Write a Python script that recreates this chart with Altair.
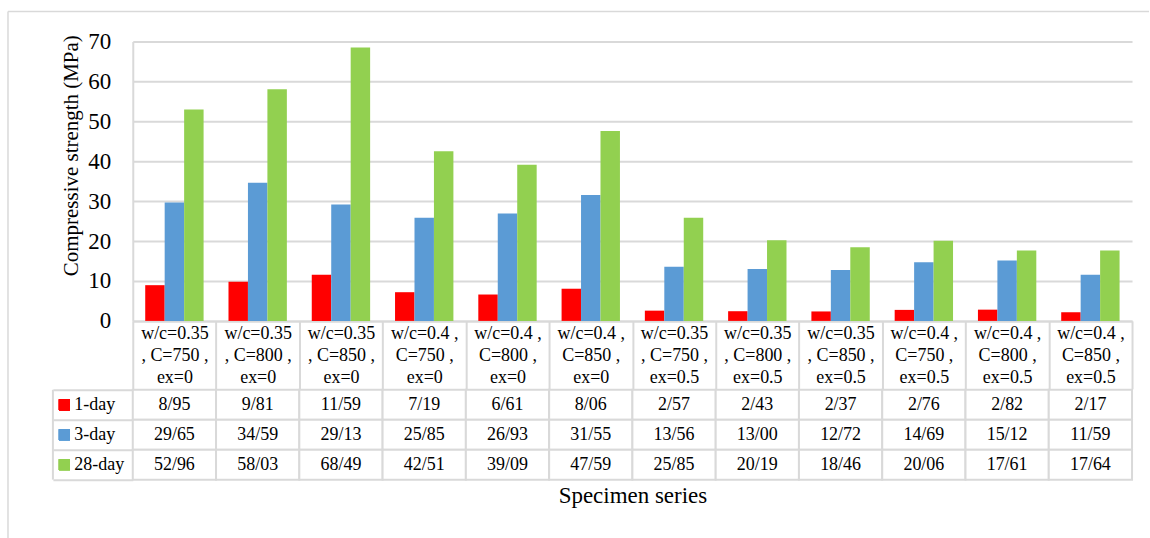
import altair as alt
import pandas as pd

categories = [
    "w/c=0.35|, C=750 ,|ex=0",
    "w/c=0.35|, C=800 ,|ex=0",
    "w/c=0.35|, C=850 ,|ex=0",
    "w/c=0.4 ,|C=750 ,|ex=0",
    "w/c=0.4 ,|C=800 ,|ex=0",
    "w/c=0.4 ,|C=850 ,|ex=0",
    "w/c=0.35|, C=750 ,|ex=0.5",
    "w/c=0.35|, C=800 ,|ex=0.5",
    "w/c=0.35|, C=850 ,|ex=0.5",
    "w/c=0.4 ,|C=750 ,|ex=0.5",
    "w/c=0.4 ,|C=800 ,|ex=0.5",
    "w/c=0.4 ,|C=850 ,|ex=0.5",
]
series_names = ["1-day", "3-day", "28-day"]
day1 = [8.95, 9.81, 11.59, 7.19, 6.61, 8.06, 2.57, 2.43, 2.37, 2.76, 2.82, 2.17]
day3 = [29.65, 34.59, 29.13, 25.85, 26.93, 31.55, 13.56, 13.00, 12.72, 14.69, 15.12, 11.59]
day28 = [52.96, 58.03, 68.49, 42.51, 39.09, 47.59, 25.85, 20.19, 18.46, 20.06, 17.61, 17.64]
colors = ["#FF0000", "#5B9BD5", "#92D050"]
y_ticks = [0, 10, 20, 30, 40, 50, 60, 70]

rows = []
for s, vals in zip(series_names, [day1, day3, day28]):
    for c, v in zip(categories, vals):
        rows.append({"category": c, "series": s, "value": v})
df = pd.DataFrame(rows)

GRID = "#D9D9D9"
FONT = "Liberation Serif"

color_enc = alt.Color("series:N", scale=alt.Scale(domain=series_names, range=colors), legend=None)

bars = alt.Chart(df).mark_bar().encode(
    x=alt.X(
        "category:N",
        sort=categories,
        scale=alt.Scale(domain=categories, paddingInner=0, paddingOuter=0),
        axis=alt.Axis(
            title=None, labelExpr="split(datum.label, '|')", labelAngle=0,
            labelFont=FONT, labelFontSize=18, labelLineHeight=22, labelBaseline="top",
            labelPadding=-64, labelColor="black", labelOverlap=False, labelBound=False,
            ticks=True, tickSize=68, tickBand="extent", tickColor=GRID, tickWidth=2,
            domainColor=GRID, domainWidth=2, grid=False,
        ),
    ),
    xOffset=alt.XOffset(
        "series:N", sort=series_names,
        scale=alt.Scale(domain=series_names, paddingInner=0, paddingOuter=0.64),
    ),
    y=alt.Y(
        "value:Q",
        scale=alt.Scale(domain=[0, 70], nice=False),
        axis=alt.Axis(
            title="Compressive strength (MPa)", values=y_ticks, grid=True,
            gridColor=GRID, gridWidth=2, ticks=False, domainColor=GRID, domainWidth=2,
            labelFont=FONT, labelFontSize=23, labelPadding=22, labelColor="black",
            titleFont=FONT, titleFontSize=21, titleFontWeight="normal", titleColor="black",
            titleX=-61, titleY=114, titleAngle=270, titleBaseline="middle", titleAlign="center",
        ),
    ),
    color=color_enc,
)

frame_df = pd.DataFrame({"k": [0]})
frame_left = alt.Chart(frame_df).mark_rule(color=GRID, strokeWidth=1.5).encode(
    x=alt.value(-125), y=alt.value(-30), y2=alt.value(498)
)
frame_top = alt.Chart(frame_df).mark_rule(color=GRID, strokeWidth=1.5).encode(
    y=alt.value(-30), x=alt.value(-125), x2=alt.value(1018)
)

top = alt.layer(frame_left, frame_top, bars).properties(width=1001, height=280)

table_base = alt.Chart(df).transform_calculate(
    label="replace(format(datum.value, '.2f'), '.', '/')"
).encode(
    x=alt.X(
        "category:N",
        sort=categories,
        scale=alt.Scale(domain=categories, paddingInner=0, paddingOuter=0),
        axis=alt.Axis(
            title="Specimen series", labels=False, ticks=False, domain=False,
            titleFont=FONT, titleFontSize=23, titleFontWeight="normal",
            titleColor="black", titlePadding=5,
        ),
    ),
    y=alt.Y(
        "series:N",
        sort=series_names,
        scale=alt.Scale(domain=series_names, paddingInner=0, paddingOuter=0),
        axis=alt.Axis(
            title=None, labelAlign="left", labelPadding=-21,
            labelFont=FONT, labelFontSize=18,
            labelColor="black", ticks=True, tickSize=80, tickBand="extent",
            tickColor=GRID, tickWidth=2, domain=False, grid=False,
        ),
    ),
)
cells = table_base.mark_rect(fill="white", stroke=GRID, strokeWidth=2)
texts = table_base.mark_text(fontSize=18, color="black", font=FONT).encode(text="label:N")
squares = table_base.mark_point(shape="square", filled=True, size=121, opacity=1).encode(
    x=alt.value(-68.5), color=color_enc
)
left_line = alt.Chart(frame_df).mark_rule(color=GRID, strokeWidth=2).encode(
    x=alt.value(-80), y=alt.value(0), y2=alt.value(90)
)
table = alt.layer(cells, texts, squares, left_line).properties(width=1001, height=90)

chart = alt.vconcat(top, table, spacing=69, bounds="flush").resolve_scale(
    x="independent", y="independent"
).properties(
    padding={"left": 7, "top": 10, "right": 0, "bottom": 0},
    background="white",
).configure(font=FONT).configure_axis(
    labelFont=FONT, titleFont=FONT
).configure_view(stroke=None)

chart.save("out.html", embed_options={"renderer": "svg", "actions": False})
